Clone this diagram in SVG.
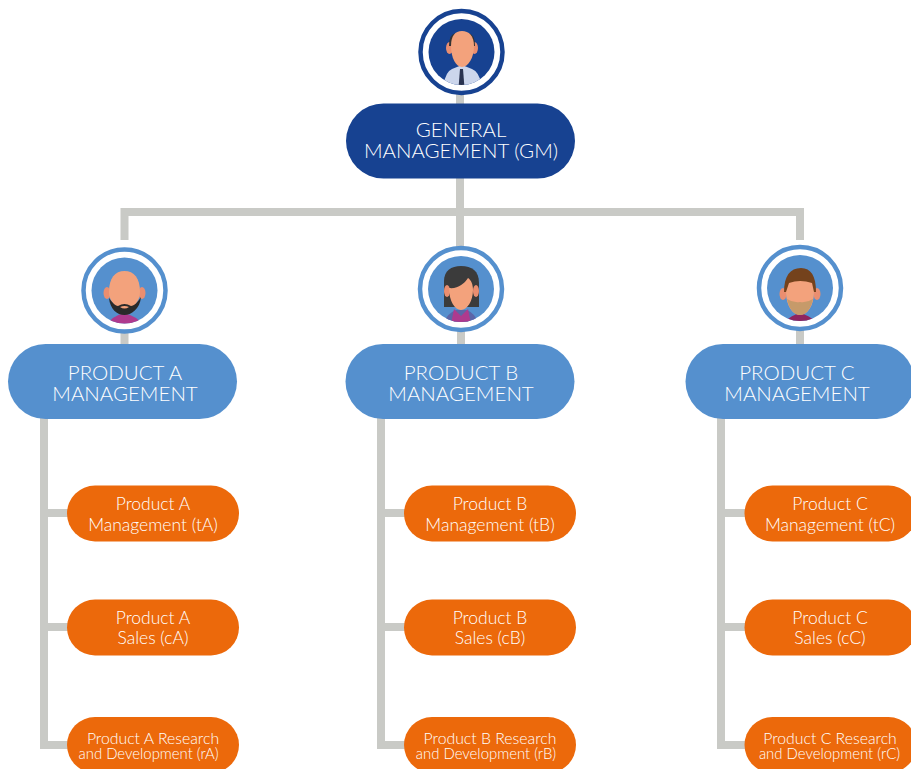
<svg xmlns="http://www.w3.org/2000/svg" width="911" height="769" viewBox="0 0 911 769">
<style>
.ln{fill:none;stroke:#c9cac6;stroke-width:8}
text{font-family:Lato,"Liberation Sans",sans-serif;fill:#fff;text-anchor:middle;font-weight:300}
.a{font-size:20.5px}
.b{font-size:17.5px}
.c{font-size:15.8px}
.d{font-size:14.9px}
.gm{fill:#174291}.pm{fill:#5590ce}.or{fill:#ec690b}
.skin{fill:#f3a27c}.ear{fill:#ea8e70}
.ringd{fill:#fff;stroke:#174291;stroke-width:4.5}
.ringl{fill:#fff;stroke:#5590ce;stroke-width:4.5}
</style>
<defs>
<clipPath id="cg"><circle cx="461.500" cy="52" r="33"/></clipPath>
<clipPath id="ca"><circle cx="124.500" cy="290.500" r="33"/></clipPath>
<clipPath id="cb"><circle cx="461" cy="289" r="33"/></clipPath>
<clipPath id="cc"><circle cx="800" cy="288" r="33"/></clipPath>
</defs>
<g id="connectors">
<path class="ln" d="M460 90V212M124.500 240V212H800V240M460 212V250M124.500 330V350M461 330V350M800 330V350"/>
<path class="ln" d="M44 415V745H72M44 513H72M44 627H72"/>
<path class="ln" d="M381 415V745H410M381 513H410M381 627H410"/>
<path class="ln" d="M721 415V745H750M721 513H750M721 627H750"/>
</g>
<g id="avatar-gm">
<circle class="ringd" cx="461.500" cy="52" r="41"/>
<circle class="gm" cx="461.500" cy="52" r="33"/>
<g clip-path="url(#cg)">
<path d="M443 88Q445 72 452 69L462 65L472 69Q480 72 482 88Z" fill="#ccd6ec"/>
<path d="M460 69h3l1.500 19h-6Z" fill="#2a3350"/>
<ellipse class="ear" cx="449.500" cy="48" rx="3.500" ry="6"/><ellipse class="ear" cx="474.500" cy="48" rx="3.500" ry="6"/>
<path d="M449 46Q449 34 456 33L462 36L468 33Q475 34 475 46Z" fill="#333"/>
<path class="skin" d="M451 46C451 36 455 31 462 31C469 31 474 36 474 46C474 58 468 67 462 67C456 67 451 58 451 46Z"/>
</g>
</g>
<g id="node-gm">
<rect class="gm" x="346" y="103.500" width="229" height="75" rx="37.500"/>
<text class="a" x="461" y="137">GENERAL</text>
<text class="a" x="461" y="158">MANAGEMENT (GM)</text>
</g>
<g id="avatar-a">
<circle class="ringl" cx="124.500" cy="290.500" r="41"/>
<circle class="pm" cx="124.500" cy="290.500" r="33"/>
<g clip-path="url(#ca)">
<path d="M107 326Q110 317 124 313Q139 317 143 326Z" fill="#ae3a8e"/>
<ellipse class="ear" cx="107" cy="293" rx="3.500" ry="6"/><ellipse class="ear" cx="142" cy="293" rx="3.500" ry="6"/>
<path class="skin" d="M109 292C109 278 115 271 124.500 271C134 271 140 278 140 292C140 302 132 310 124.500 310C117 310 109 302 109 292Z"/>
<path d="M109 298C112 302 115 306 118 306Q124.500 302 131 306C134 306 138 302 141 297C140 309 131 315 124.500 315C117 315 110 309 109 298Z" fill="#2a2a2a"/>
<path d="M120 307Q124.500 305 129 307Q124.500 310 120 307Z" fill="#f3a27c"/>
</g>
</g>
<g id="node-a">
<rect class="pm" x="8" y="344" width="229" height="75" rx="37.500"/>
<text class="a" x="125" y="380">PRODUCT A</text>
<text class="a" x="125" y="401">MANAGEMENT</text>
</g>
<g id="avatar-b">
<circle class="ringl" cx="461" cy="289" r="41"/>
<circle class="pm" cx="461" cy="289" r="33"/>
<g clip-path="url(#cb)">
<path d="M444 324Q446 314 456 310H467Q476 314 478 324Z" fill="#5c65a8"/>
<path d="M454 309L461 316L468 309L471 324H451Z" fill="#ae3a8e"/>
<path d="M444 307V281C444 271 451 266 461 266C472 266 479 271 479 283V307Z" fill="#3b3b3b"/>
<ellipse class="ear" cx="447" cy="291" rx="3" ry="6"/><ellipse class="ear" cx="476" cy="291" rx="3" ry="6"/>
<path class="skin" d="M449 288C458 289 464 284 468 278C471 280 473 284 473 290C473 301 467 310 461 310C455 310 449 301 449 288Z"/>
</g>
</g>
<g id="node-b">
<rect class="pm" x="345.500" y="344" width="229" height="75" rx="37.500"/>
<text class="a" x="461" y="380">PRODUCT B</text>
<text class="a" x="461" y="401">MANAGEMENT</text>
</g>
<g id="avatar-c">
<circle class="ringl" cx="800" cy="288" r="41"/>
<circle class="pm" cx="800" cy="288" r="33"/>
<g clip-path="url(#cc)">
<path d="M785 322Q790 316 800 313Q810 316 816 322Z" fill="#8e2460"/>
<ellipse class="ear" cx="783" cy="294" rx="3.500" ry="6"/><ellipse class="ear" cx="817" cy="294" rx="3.500" ry="6"/>
<path d="M784 292C784 276 790 268 801 268C811 268 816 276 816 292Z" fill="#74421c"/>
<path class="skin" d="M786 292L789 283Q800 279 812 283L814 292C814 306 807 315 800 315C793 315 786 306 786 292Z"/>
<path d="M787 299Q793 303 800 302Q807 303 813 299C811 309 806 315 800 315C794 315 789 309 787 299Z" fill="#c69a6a"/>
</g>
</g>
<g id="node-c">
<rect class="pm" x="685.500" y="344" width="229" height="75" rx="37.500"/>
<text class="a" x="797" y="380">PRODUCT C</text>
<text class="a" x="797" y="401">MANAGEMENT</text>
</g>
<g id="node-ta"><rect class="or" x="67" y="485.500" width="172" height="56" rx="28"/><text class="b" x="153" y="510">Product A</text><text class="b" x="153" y="531">Management (tA)</text></g>
<g id="node-ca"><rect class="or" x="67" y="599.500" width="172" height="56" rx="28"/><text class="b" x="153" y="624">Product A</text><text class="b" x="153" y="644">Sales (cA)</text></g>
<g id="node-ra"><rect class="or" x="67" y="717" width="172" height="56" rx="28"/><text class="c" x="153" y="744">Product A Research</text><text class="d" x="148.500" y="759">and Development (rA)</text></g>
<g id="node-tb"><rect class="or" x="404" y="485.500" width="172" height="56" rx="28"/><text class="b" x="490" y="510">Product B</text><text class="b" x="490" y="531">Management (tB)</text></g>
<g id="node-cb"><rect class="or" x="404" y="599.500" width="172" height="56" rx="28"/><text class="b" x="490" y="624">Product B</text><text class="b" x="490" y="644">Sales (cB)</text></g>
<g id="node-rb"><rect class="or" x="404" y="717" width="172" height="56" rx="28"/><text class="c" x="490" y="744">Product B Research</text><text class="d" x="486" y="759">and Development (rB)</text></g>
<g id="node-tc"><rect class="or" x="744.500" y="485.500" width="172" height="56" rx="28"/><text class="b" x="830" y="510">Product C</text><text class="b" x="830" y="531">Management (tC)</text></g>
<g id="node-cc"><rect class="or" x="744.500" y="599.500" width="172" height="56" rx="28"/><text class="b" x="830" y="624">Product C</text><text class="b" x="830" y="644">Sales (cC)</text></g>
<g id="node-rc"><rect class="or" x="744.500" y="717" width="172" height="56" rx="28"/><text class="c" x="830" y="744">Product C Research</text><text class="d" x="829.500" y="759">and Development (rC)</text></g>
</svg>
